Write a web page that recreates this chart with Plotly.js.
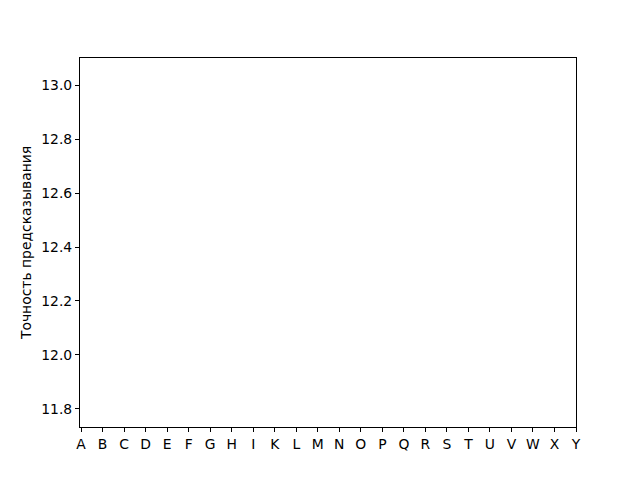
<!DOCTYPE html>
<html>
<head>
<meta charset="utf-8">
<script src="https://cdn.plot.ly/plotly-3.0.1.min.js"></script>
<style>html,body{margin:0;padding:0;background:#fff;}#chart{width:640px;height:480px;}</style>
</head>
<body>
<div id="chart"></div>
<script>
const categories = ["A","B","C","D","E","F","G","H","I","K","L","M","N","O","P","Q","R","S","T","U","V","W","X","Y"];
const values = categories.map(() => null);
const yTicks = [11.8, 12.0, 12.2, 12.4, 12.6, 12.8, 13.0];
const yTickLabels = ["11.8", "12.0", "12.2", "12.4", "12.6", "12.8", "13.0"];
const yLabel = "Точность предсказывания";

const font = {family: "DejaVu Sans", size: 13.9, color: "#000"};
Plotly.newPlot("chart", [{
  type: "scatter", mode: "lines", x: categories, y: values,
  line: {color: "#1f77b4"}, showlegend: false, hoverinfo: "skip"
}], {
  width: 640, height: 480,
  margin: {l: 80, r: 64, t: 58, b: 53},
  paper_bgcolor: "#fff", plot_bgcolor: "#fff",
  font: font,
  showlegend: false,
  xaxis: {
    type: "category", categoryorder: "array", categoryarray: categories,
    range: [-0.05, 23], autorange: false,
    showgrid: false, zeroline: false,
    showline: true, linecolor: "#000", linewidth: 1, mirror: true,
    ticks: "outside", ticklen: 4, tickwidth: 1, tickcolor: "#000",
    tickfont: font
  },
  yaxis: {
    range: [11.7333, 13.1], autorange: false,
    tickvals: yTicks, ticktext: yTickLabels,
    showgrid: false, zeroline: false,
    showline: true, linecolor: "#000", linewidth: 1, mirror: true,
    ticks: "outside", ticklen: 4, tickwidth: 1, tickcolor: "#000",
    tickfont: font,
    title: {text: yLabel, font: font, standoff: 6}
  }
}, {displayModeBar: false, staticPlot: true});
</script>
</body>
</html>
